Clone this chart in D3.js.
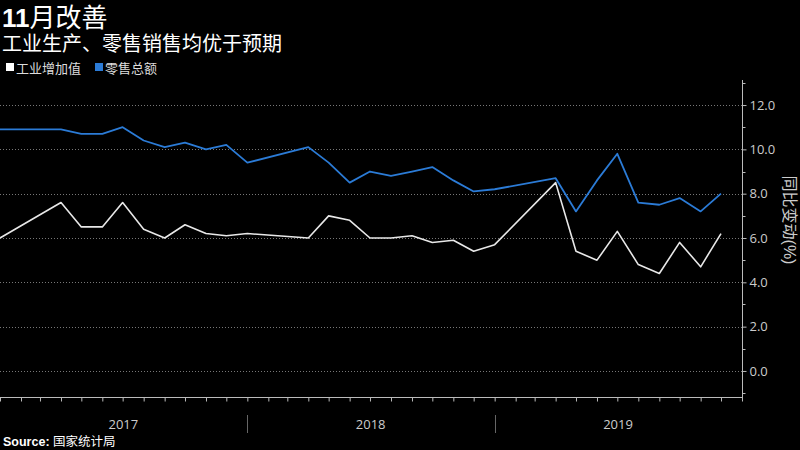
<!DOCTYPE html>
<html lang="zh-CN"><head><meta charset="utf-8">
<script src="https://cdn.jsdelivr.net/npm/d3@7"></script>
<style>
html,body{margin:0;padding:0;background:#000;}
svg{display:block;font-family:"Liberation Sans","Noto Sans CJK SC",sans-serif;}
</style></head>
<body><svg id="chart" width="800" height="450"></svg>
<script>
// month-end dates (Jan/Feb omitted as in source)
const months = ["2016-12","2017-03","2017-04","2017-05","2017-06","2017-07","2017-08","2017-09","2017-10","2017-11","2017-12",
"2018-03","2018-04","2018-05","2018-06","2018-07","2018-08","2018-09","2018-10","2018-11","2018-12",
"2019-03","2019-04","2019-05","2019-06","2019-07","2019-08","2019-09","2019-10","2019-11"];
const industry = [6.0,7.6,6.5,6.5,7.6,6.4,6.0,6.6,6.2,6.1,6.2,
6.0,7.0,6.8,6.0,6.0,6.1,5.8,5.9,5.4,5.7,
8.5,5.4,5.0,6.3,4.8,4.4,5.8,4.7,6.2];
const retail = [10.9,10.9,10.7,10.7,11.0,10.4,10.1,10.3,10.0,10.2,9.4,
10.1,9.4,8.5,9.0,8.8,9.0,9.2,8.6,8.1,8.2,
8.7,7.2,8.6,9.8,7.6,7.5,7.8,7.2,8.0];
const years = [2017,2018,2019];
const yTicks = [0,2,4,6,8,10,12];
const seriesNames = ["工业增加值","零售总额"];

const svg = d3.select("#chart");
const monthEnd = s => { const [y,m] = s.split("-").map(Number); return new Date(y, m, 0); };
const dates = months.map(monthEnd);

const x = d3.scaleTime().domain([new Date(2016,11,31), new Date(2019,11,31)]).range([0,742]);
const y = d3.scaleLinear().domain([-1.22,13.13]).range([398,80]);

// gridlines
svg.append("g").selectAll("line").data(yTicks).join("line")
  .attr("x1",0).attr("x2",742).attr("y1",d=>Math.round(y(d))+0.5).attr("y2",d=>Math.round(y(d))+0.5)
  .attr("stroke","#777").attr("stroke-width",1).attr("stroke-dasharray","1,2");

// right axis
const yAxis = d3.axisRight(y).tickValues(yTicks).tickFormat(d3.format(".1f")).tickSize(4).tickPadding(3);
const gy = svg.append("g").attr("transform","translate(742.5,0)").call(yAxis);
gy.select(".domain").attr("stroke","#bbb").attr("d","M0,80V398");
gy.selectAll(".tick line").attr("stroke","#bbb");
gy.selectAll(".tick text").attr("fill","#ccc").attr("font-size",13).attr("font-family","'Open Sans','DejaVu Sans',sans-serif");
// minor ticks
const minor = d3.range(-1,14).filter(v=>!yTicks.includes(v));
svg.append("g").selectAll("line").data(minor).join("line")
  .attr("x1",742.5).attr("x2",745.5).attr("y1",d=>Math.round(y(d))+0.5).attr("y2",d=>Math.round(y(d))+0.5)
  .attr("stroke","#bbb");

// x axis
const monthTicks = d3.range(0,37).map(i=>new Date(2017, i, 0));
const xAxis = d3.axisBottom(x).tickValues(monthTicks).tickSize(4).tickFormat("");
const gx = svg.append("g").attr("transform","translate(0,397.5)").call(xAxis);
gx.select(".domain").attr("stroke","#bbb").attr("d","M0,0H742");
gx.selectAll(".tick line").attr("stroke","#bbb");

// year separators and labels
svg.append("g").selectAll("line").data(years.slice(1)).join("line")
  .attr("x1",d=>Math.round(x(new Date(d,0,0)))+0.5).attr("x2",d=>Math.round(x(new Date(d,0,0)))+0.5)
  .attr("y1",415).attr("y2",433).attr("stroke","#666");
svg.append("g").selectAll("text").data(years).join("text")
  .attr("x",d=>x(new Date(d,6,1))).attr("y",429).attr("text-anchor","middle")
  .attr("fill","#ccc").attr("font-size",13).attr("font-family","'Open Sans','DejaVu Sans',sans-serif")
  .text(d=>d);

// lines
const line = vals => d3.line().x((d,i)=>x(dates[i])).y(d=>y(d))(vals);
svg.append("path").attr("d",line(industry)).attr("fill","none").attr("stroke","#e8e8e8").attr("stroke-width",1.6).attr("stroke-linejoin","round");
svg.append("path").attr("d",line(retail)).attr("fill","none").attr("stroke","#2b7bd6").attr("stroke-width",1.8).attr("stroke-linejoin","round");

// title
const t = svg.append("text").attr("x",2).attr("y",27).attr("fill","#fff").attr("font-size",26);
t.append("tspan").attr("font-weight","bold").text("11");
t.append("tspan").text("月改善");
svg.append("text").attr("x",2).attr("y",51).attr("fill","#fff").attr("font-size",20).text("工业生产、零售销售均优于预期");

// legend
const legendColors = ["#ffffff","#2b7bd6"];
const legX = [6,95];
seriesNames.forEach((n,i)=>{
  svg.append("rect").attr("x",legX[i]).attr("y",63).attr("width",8).attr("height",8).attr("fill",legendColors[i]);
  svg.append("text").attr("x",legX[i]+10).attr("y",72.5).attr("fill","#ddd").attr("font-size",13).text(n);
});

// axis title
svg.append("text").attr("transform","translate(784,220) rotate(90)").attr("text-anchor","middle")
  .attr("fill","#ccc").attr("font-size",16).text("同比变动(%)");

// source
const s = svg.append("text").attr("x",3).attr("y",446).attr("fill","#fff").attr("font-size",12.5);
s.append("tspan").attr("font-weight","bold").text("Source: ");
s.append("tspan").text("国家统计局");
</script></body></html>
